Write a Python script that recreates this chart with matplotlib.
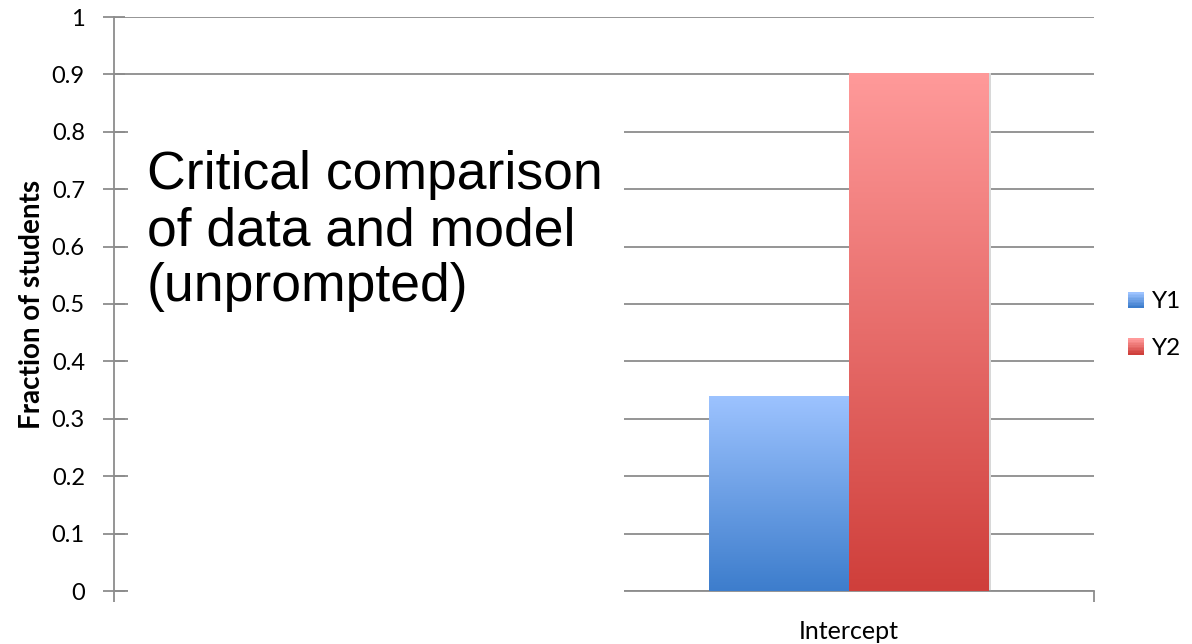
import numpy as np
import matplotlib.pyplot as plt
from matplotlib.patches import Rectangle
from matplotlib.colors import LinearSegmentedColormap
from matplotlib.legend_handler import HandlerBase

# Data
categories = ["", "Intercept"]
series_names = ["Y1", "Y2"]
y1_values = [np.nan, 0.34]
y2_values = [np.nan, 0.903]

# gradient colours (top, bottom) for each series
y1_colors = ("#9dc3ff", "#3d7dcc")
y2_colors = ("#ff9a9a", "#cf3f3b")

grid_color = "#8c8c8c"
plt.rcParams['font.family'] = ['Lato', 'DejaVu Sans']

fig = plt.figure(figsize=(11.92, 6.44), dpi=100)
ax = fig.add_axes([114 / 1192, 1 - 591 / 644, 980 / 1192, 574 / 644])

ax.set_xlim(-0.5, len(categories) - 0.5)
ax.set_ylim(0, 1)

bar_w = 0.2857
grad = np.linspace(1, 0, 256).reshape(-1, 1)


def gradient_bar(x0, h, colors):
    if np.isnan(h):
        return
    cmap = LinearSegmentedColormap.from_list("g", [colors[1], colors[0]])
    rect = Rectangle((x0, 0), bar_w, h, facecolor="none", edgecolor="none")
    ax.add_patch(rect)
    im = ax.imshow(grad, cmap=cmap, aspect="auto", extent=(x0, x0 + bar_w, 0, h),
                   zorder=3, vmin=0, vmax=1)
    im.set_clip_path(rect)
    # soft shadow on the right edge
    ax.add_patch(Rectangle((x0 + bar_w, 0), 0.004, h, facecolor="#d8d8d8",
                           edgecolor="none", zorder=2))


for i in range(len(categories)):
    gradient_bar(i - bar_w, y1_values[i], y1_colors)
    gradient_bar(i, y2_values[i], y2_colors)

# axes styling
ax.set_yticks(np.arange(0, 1.01, 0.1))
ax.set_yticklabels(["0", "0.1", "0.2", "0.3", "0.4", "0.5", "0.6", "0.7", "0.8", "0.9", "1"])
ax.yaxis.grid(True, color=grid_color, linewidth=1.3, zorder=1)
ax.set_axisbelow(True)
ax.tick_params(axis="y", direction="inout", length=16, width=1.3, color=grid_color,
               labelsize=17, pad=13)

ax.set_xticks([-0.5, 0.5, 1.5])
ax.set_xticklabels([])
ax.set_xticks(range(len(categories)), minor=True)
ax.set_xticklabels(categories, minor=True, fontsize=18)
ax.tick_params(axis="x", which="major", direction="out", length=8, width=1.3, color=grid_color)
ax.tick_params(axis="x", which="minor", length=0, pad=21)

for s in ["top", "right"]:
    ax.spines[s].set_visible(False)
for s in ["left", "bottom"]:
    ax.spines[s].set_color(grid_color)
    ax.spines[s].set_linewidth(1.3)

ax.set_ylabel("Fraction of students", fontsize=20, fontweight="bold", labelpad=5)


class GradientHandler(HandlerBase):
    def __init__(self, colors):
        super().__init__()
        self.colors = colors

    def create_artists(self, legend, orig_handle, xdescent, ydescent, width, height,
                       fontsize, trans):
        cmap = LinearSegmentedColormap.from_list("g", [self.colors[0], self.colors[1]])
        n = 10
        size = height * 0.95
        x0 = width - size
        arts = []
        for k in range(n):
            arts.append(Rectangle((x0, -ydescent + size * (n - 1 - k) / n), size, size / n + 0.1,
                                  facecolor=cmap(k / (n - 1)), edgecolor="none",
                                  transform=trans))
        return arts


h1 = Rectangle((0, 0), 1, 1)
h2 = Rectangle((0, 0), 1, 1)
fig.legend([h1, h2], series_names, loc="center left", bbox_to_anchor=(1100 / 1192, 1 - 325 / 644),
           frameon=False, fontsize=17.5, labelspacing=1.05, handlelength=0.9, handletextpad=0.35,
           handler_map={h1: GradientHandler(y1_colors), h2: GradientHandler(y2_colors)})

# text box laid over the left category
fig.patches.append(Rectangle((128 / 1192, 1 - 620 / 644), (624 - 128) / 1192, (620 - 100) / 644,
                             transform=fig.transFigure, facecolor="white", edgecolor="none",
                             zorder=5))
fig.text(147 / 1192, 1 - 150 / 644, "Critical comparison\nof data and model\n(unprompted)",
         family="Liberation Sans", fontsize=38.5, va="top", ha="left", linespacing=1.16,
         zorder=6)

fig.savefig("out.png", dpi=100)
